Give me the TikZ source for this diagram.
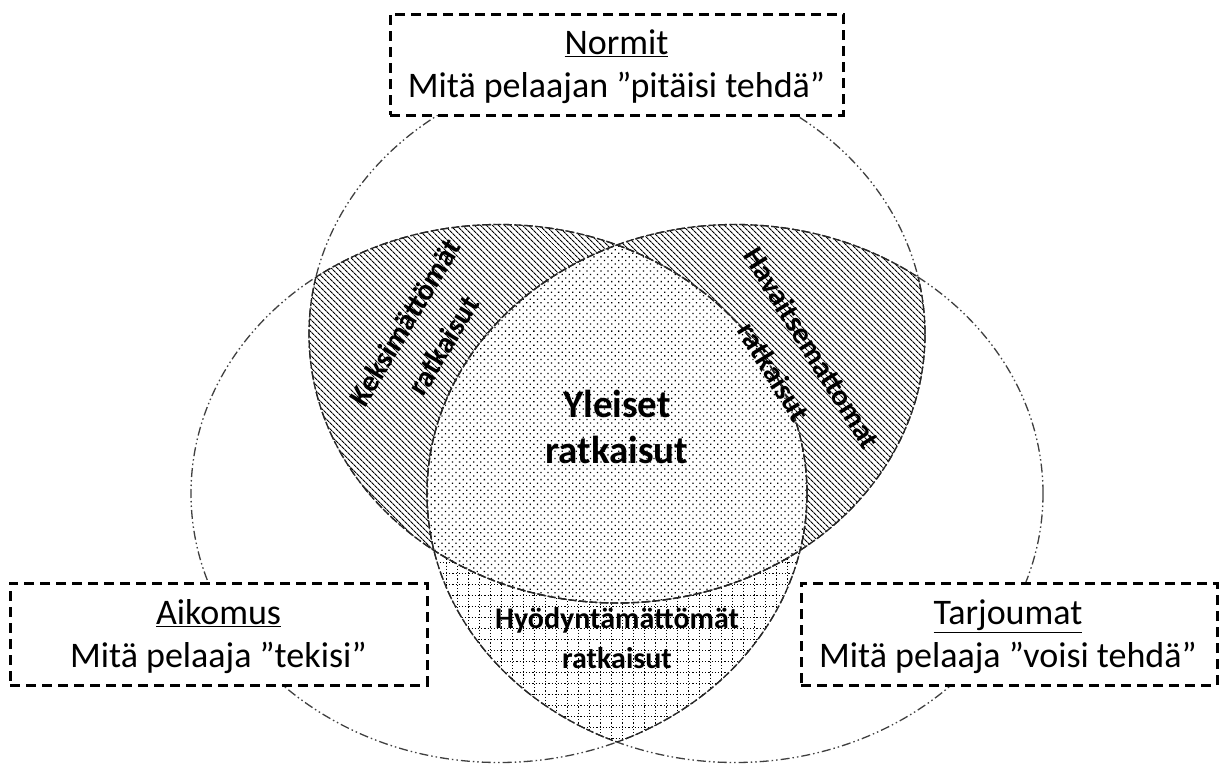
\documentclass[tikz,border=0pt]{standalone}
\usepackage{fontspec}
\setmainfont{Carlito}
\usetikzlibrary{patterns.meta}
\begin{document}
\begin{tikzpicture}[x=1pt,y=-1pt,
  outline/.style={draw=black!75, line width=1.3pt, dash pattern=on 9pt off 3pt on 1.5pt off 3pt on 1.5pt off 3pt},
  innerarc/.style={draw=black!85, line width=1.3pt, dash pattern=on 8pt off 2.5pt},
  framebox/.style={draw=black, fill=white, line width=3pt, dash pattern=on 10pt off 6pt, inner sep=0pt},
  boxtext/.style={align=center, font=\fontsize{36}{43}\selectfont, inner sep=0pt},
  regiontext/.style={align=center, font=\fontsize{30}{45}\selectfont\bfseries, inner sep=0pt},
  hatch/.style={pattern={Lines[angle=-45,distance=4pt,line width=1.1pt]}},
  dotfill/.style={pattern={Dots[distance=5pt,radius=0.9pt,angle=45]}},
  gridline/.style={draw=black, line width=1pt, dash pattern=on 1.2pt off 2pt}
]
\useasboundingbox (0,0) rectangle (1219,766);
\fill[white] (0,0) rectangle (1219,766);

% Keksimattomat: top and left
\begin{scope}
  \clip (617,334) ellipse [x radius=308pt, y radius=269pt];
  \clip (499,493.5) ellipse [x radius=308pt, y radius=269pt];
  \fill[hatch] (0,0) rectangle (1219,766);
\end{scope}
% Havaitsemattomat: top and right
\begin{scope}
  \clip (617,334) ellipse [x radius=308pt, y radius=269pt];
  \clip (735,493.5) ellipse [x radius=308pt, y radius=269pt];
  \fill[hatch] (0,0) rectangle (1219,766);
\end{scope}
% Hyodyntamattomat: left and right
\begin{scope}
  \clip (499,493.5) ellipse [x radius=308pt, y radius=269pt];
  \clip (735,493.5) ellipse [x radius=308pt, y radius=269pt];
  \foreach \gx in {446,457,...,800} \draw[gridline] (\gx,540) -- (\gx,766);
  \foreach \gy in {562,573,...,766} \draw[gridline] (430,\gy) -- (800,\gy);
\end{scope}
% Yleiset: all three
\begin{scope}
  \clip (617,334) ellipse [x radius=308pt, y radius=269pt];
  \clip (499,493.5) ellipse [x radius=308pt, y radius=269pt];
  \clip (735,493.5) ellipse [x radius=308pt, y radius=269pt];
  \fill[white] (0,0) rectangle (1219,766);
  \fill[dotfill] (0,0) rectangle (1219,766);
\end{scope}

% outlines
\draw[outline] (617,334) ellipse [x radius=308pt, y radius=269pt];
\draw[outline] (499,493.5) ellipse [x radius=308pt, y radius=269pt];
\draw[outline] (735,493.5) ellipse [x radius=308pt, y radius=269pt];

% inner arcs
\begin{scope}
  \clip (617,334) ellipse [x radius=308pt, y radius=269pt];
  \draw[innerarc] (499,493.5) ellipse [x radius=308pt, y radius=269pt];
  \draw[innerarc] (735,493.5) ellipse [x radius=308pt, y radius=269pt];
\end{scope}
\begin{scope}
  \clip (499,493.5) ellipse [x radius=308pt, y radius=269pt];
  \draw[innerarc] (617,334) ellipse [x radius=308pt, y radius=269pt];
  \draw[innerarc] (735,493.5) ellipse [x radius=308pt, y radius=269pt];
\end{scope}
\begin{scope}
  \clip (735,493.5) ellipse [x radius=308pt, y radius=269pt];
  \draw[innerarc] (617,334) ellipse [x radius=308pt, y radius=269pt];
  \draw[innerarc] (499,493.5) ellipse [x radius=308pt, y radius=269pt];
\end{scope}

% boxes
\node[framebox, minimum width=453pt, minimum height=101pt] (normitbox) at (616.5,64.5) {};
\node[framebox, minimum width=417pt, minimum height=102pt] (aikomusbox) at (218.5,634) {};
\node[framebox, minimum width=416pt, minimum height=102pt] (tarjoumatbox) at (1009,634) {};

\node[boxtext] (normit) at (616.5,67) {\underline{Normit}\\Mitä pelaajan ”pitäisi tehdä”};
\node[boxtext] (aikomus) at (218.5,637) {\underline{Aikomus}\\Mitä pelaaja ”tekisi”};
\node[boxtext] (tarjoumat) at (1008,637) {\underline{Tarjoumat}\\Mitä pelaaja ”voisi tehdä”};

% region labels
\node[align=center, inner sep=0pt, font=\fontsize{39}{46}\selectfont\bfseries] (yleiset) at (617,427) {Yleiset\\ratkaisut};
\node[regiontext, font=\fontsize{30}{40}\selectfont\bfseries] (hyod) at (617,638) {Hyödyntämättömät\\ratkaisut};
\node[regiontext, rotate=59] (keks) at (424,334) {Keksimättömät\\ratkaisut};
\node[regiontext, rotate=-58] (havait) at (793,360) {Havaitsemattomat\\ratkaisut};
\end{tikzpicture}
\end{document}
